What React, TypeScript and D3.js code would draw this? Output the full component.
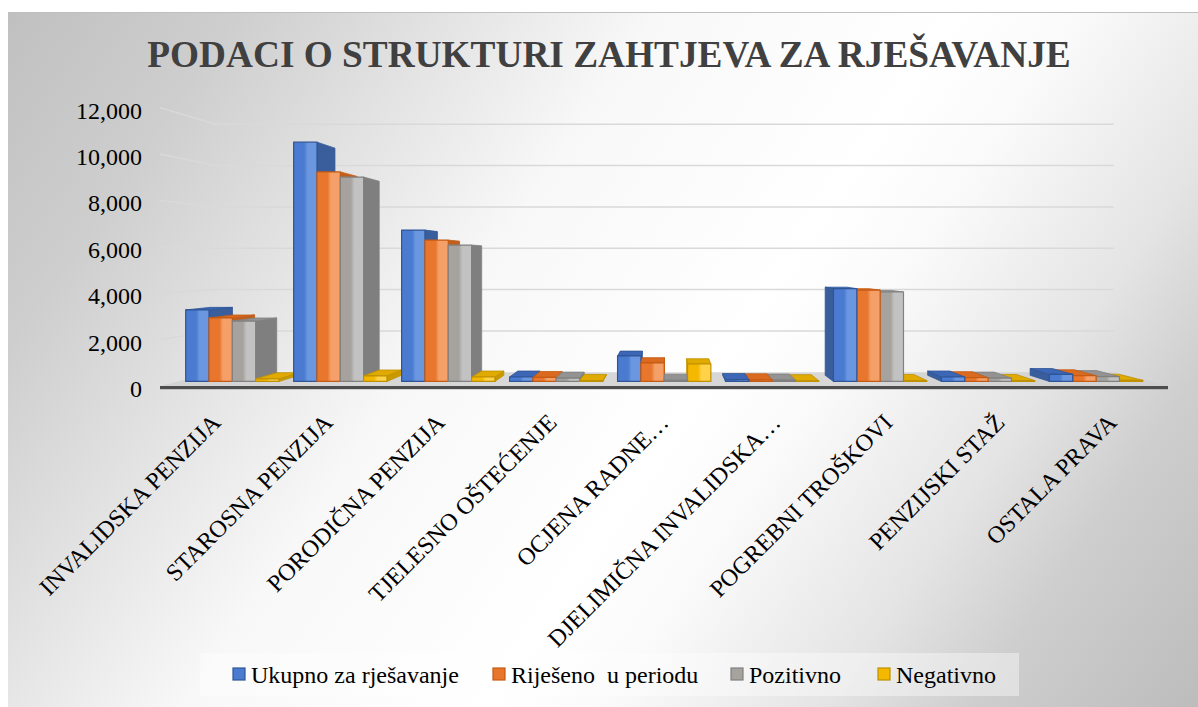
import React from 'react';
import * as d3 from 'd3';

const categories = [
  'INVALIDSKA PENZIJA',
  'STAROSNA PENZIJA',
  'PORODIČNA PENZIJA',
  'TJELESNO OŠTEĆENJE',
  'OCJENA RADNE…',
  'DJELIMIČNA INVALIDSKA…',
  'POGREBNI TROŠKOVI',
  'PENZIJSKI STAŽ',
  'OSTALA PRAVA',
];
const seriesNames = ['Ukupno za rješavanje', 'Riješeno  u periodu', 'Pozitivno', 'Negativno'];
const ukupno = [3200, 10700, 6770, 200, 1140, 80, 4150, 200, 320];
const rijeseno = [2840, 9370, 6320, 180, 830, 70, 4080, 170, 260];
const pozitivno = [2700, 9140, 6100, 150, 50, 60, 4000, 150, 220];
const negativno = [120, 250, 200, 40, 780, 30, 40, 40, 50];
const yTicks = [0, 2000, 4000, 6000, 8000, 10000, 12000];
const title = 'PODACI O STRUKTURI ZAHTJEVA ZA RJEŠAVANJE';

const seriesValues = [ukupno, rijeseno, pozitivno, negativno];
const palette = [
  { base: '#4a7bd0', hi: '#6b97e0', stroke: '#2f5597', side: '#3a5d9c', top: '#3d67b6' },
  { base: '#e8772d', hi: '#f4a068', stroke: '#c55a11', side: '#c0601f', top: '#d96a20' },
  { base: '#a6a29e', hi: '#c2c2c2', stroke: '#808080', side: '#7f7f7f', top: '#939393' },
  { base: '#f5b800', hi: '#ffd24a', stroke: '#bf9000', side: '#c99a00', top: '#e0aa00' },
];

const FONT = "'Liberation Serif', 'Times New Roman', serif";
const VX = 670;
const VY = 260;
const S_FRONT = 0.964;
const S_BACK = 0.915;
const S_WALL = 0.891;
const FLOOR_Y = 386;
const PLOT_L = 160;
const PLOT_R = 1168;

const P = (X: number, Y: number, s: number): [number, number] => [VX + s * (X - VX), VY + s * (Y - VY)];
const pts = (arr: [number, number][]) => arr.map((p) => `${p[0].toFixed(2)},${p[1].toFixed(2)}`).join(' ');

export default function App() {
  const x0 = d3.scaleBand<string>().domain(categories).range([PLOT_L, PLOT_R]).paddingInner(0).paddingOuter(0);
  const x1 = d3
    .scaleBand<string>()
    .domain(seriesNames)
    .range([0, x0.bandwidth()])
    .paddingInner(0)
    .paddingOuter(0.314);
  const y = d3.scaleLinear().domain([0, 12000]).range([FLOOR_Y, FLOOR_Y - 0.0232 * 12000]);
  const fmt = d3.format(',');

  type Bar = { key: string; X0: number; X1: number; Yt: number; j: number };
  const bars: Bar[] = [];
  categories.forEach((c, i) => {
    seriesNames.forEach((s, j) => {
      const X0 = (x0(c) as number) + (x1(s) as number);
      bars.push({ key: `${i}-${j}`, X0, X1: X0 + x1.bandwidth(), Yt: y(seriesValues[j][i]), j });
    });
  });
  bars.sort((a, b) => Math.abs((b.X0 + b.X1) / 2 - VX) - Math.abs((a.X0 + a.X1) / 2 - VX));

  const Yb = FLOOR_Y;

  return (
    <svg
      width={1198}
      height={707}
      style={{ position: 'absolute', left: 0, top: 0, display: 'block' }}
      fontFamily={FONT}
    >
      <defs>
        <linearGradient id="bg" gradientUnits="userSpaceOnUse" x1={72.5} y1={-84.8} x2={1212.3} y2={692.2}>
          <stop offset="0" stopColor="#c0c0c0" />
          <stop offset="0.138" stopColor="#cecece" />
          <stop offset="0.283" stopColor="#e6e6e6" />
          <stop offset="0.391" stopColor="#f8f8f8" />
          <stop offset="0.572" stopColor="#ffffff" />
          <stop offset="0.645" stopColor="#fafafa" />
          <stop offset="0.775" stopColor="#e4e4e4" />
          <stop offset="0.862" stopColor="#cecece" />
          <stop offset="1" stopColor="#bcbcbc" />
        </linearGradient>
        {palette.map((p, j) => (
          <linearGradient key={j} id={`front${j}`} x1="0" y1="0" x2="1" y2="0">
            <stop offset="0" stopColor={p.base} />
            <stop offset="0.45" stopColor={p.base} />
            <stop offset="0.6" stopColor={p.hi} />
            <stop offset="1" stopColor={p.hi} />
          </linearGradient>
        ))}
      </defs>
      <rect x={0} y={0} width={1198} height={707} fill="#ffffff" />
      <rect x={8} y={12} width={1190} height={695} fill="url(#bg)" />
      <line x1={8} x2={1198} y1={12.5} y2={12.5} stroke="#bfbfbf" strokeWidth={1} />

      {/* title */}
      <text
        x={609}
        y={67}
        textAnchor="middle"
        fontSize={37.3}
        fontWeight="bold"
        fill="#404040"
      >
        {title}
      </text>

      {/* gridlines: side wall + back wall */}
      {yTicks
        .filter((v) => v > 0)
        .map((v) => {
          const a = P(PLOT_L, y(v), 1);
          const b = P(PLOT_L, y(v), S_WALL);
          const c = P(PLOT_R, y(v), S_WALL);
          return (
            <polyline
              key={v}
              points={pts([a, b, c])}
              fill="none"
              stroke="#d9d9d9"
              strokeWidth={1.5}
            />
          );
        })}

      {/* y labels */}
      {yTicks.map((v) => (
        <text key={v} x={142} y={y(v) + 11} textAnchor="end" fontSize={24} fill="#000">
          {fmt(v)}
        </text>
      ))}

      {/* floor */}
      <polygon
        points={pts([P(PLOT_L, Yb, 1), P(PLOT_R, Yb, 1), P(PLOT_R, Yb, S_WALL), P(PLOT_L, Yb, S_WALL)])}
        fill="#d0d0d0"
        fillOpacity={0.85}
      />
      <rect x={PLOT_L} y={Yb} width={PLOT_R - PLOT_L} height={3.2} fill="#4d4d4d" />

      {/* bars */}
      {bars.map((b) => {
        const p = palette[b.j];
        const cx = (b.X0 + b.X1) / 2;
        const front = [P(b.X0, b.Yt, S_FRONT), P(b.X1, b.Yt, S_FRONT), P(b.X1, Yb, S_FRONT), P(b.X0, Yb, S_FRONT)] as [number, number][];
        let side: [number, number][] | null = null;
        if (cx < VX) {
          side = [P(b.X1, b.Yt, S_FRONT), P(b.X1, b.Yt, S_BACK), P(b.X1, Yb, S_BACK), P(b.X1, Yb, S_FRONT)];
        } else {
          side = [P(b.X0, b.Yt, S_FRONT), P(b.X0, b.Yt, S_BACK), P(b.X0, Yb, S_BACK), P(b.X0, Yb, S_FRONT)];
        }
        const top =
          b.Yt > VY
            ? ([P(b.X0, b.Yt, S_FRONT), P(b.X1, b.Yt, S_FRONT), P(b.X1, b.Yt, S_BACK), P(b.X0, b.Yt, S_BACK)] as [number, number][])
            : null;
        return (
          <g key={b.key}>
            {side && <polygon points={pts(side)} fill={p.side} stroke={p.stroke} strokeWidth={0.8} strokeLinejoin="round" />}
            {top && <polygon points={pts(top)} fill={p.top} stroke={p.stroke} strokeWidth={0.8} strokeLinejoin="round" />}
            <polygon points={pts(front)} fill={`url(#front${b.j})`} stroke={p.stroke} strokeWidth={1.2} strokeLinejoin="round" />
          </g>
        );
      })}

      {/* category labels */}
      {categories.map((c) => {
        const cx = (x0(c) as number) + x0.bandwidth() / 2 + 6;
        return (
          <text
            key={c}
            transform={`translate(${cx},424) rotate(-45)`}
            textAnchor="end"
            fontSize={24}
            fill="#000"
          >
            {c}
          </text>
        );
      })}

      {/* legend */}
      <rect x={200} y={653} width={819} height={43} fill="#ffffff" fillOpacity={0.4} />
      {seriesNames.map((s, j) => {
        const mx = [233, 493, 731, 878][j];
        const p = palette[j];
        return (
          <g key={s}>
            <rect x={mx} y={668} width={12} height={12} fill={p.base} stroke={p.stroke} strokeWidth={1.2} />
            <text x={mx + 18} y={683} fontSize={24} fill="#000" style={{ whiteSpace: 'pre' }}>
              {s}
            </text>
          </g>
        );
      })}
    </svg>
  );
}
